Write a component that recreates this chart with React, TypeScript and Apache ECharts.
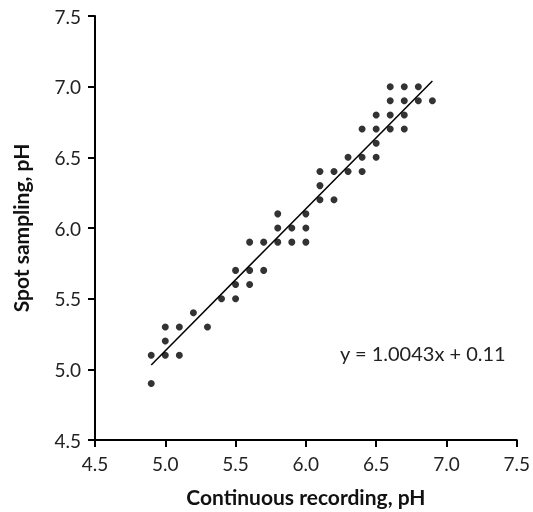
import React, { useEffect, useRef } from "react";
import * as echarts from "echarts";

const continuous = [
  4.9, 4.9, 5.0, 5.0, 5.0, 5.1, 5.1, 5.2, 5.3, 5.4,
  5.5, 5.5, 5.5, 5.6, 5.6, 5.6, 5.7, 5.7,
  5.8, 5.8, 5.8, 5.9, 5.9, 6.0, 6.0, 6.0,
  6.1, 6.1, 6.1, 6.2, 6.2, 6.3, 6.3,
  6.4, 6.4, 6.4, 6.5, 6.5, 6.5, 6.5,
  6.6, 6.6, 6.6, 6.6, 6.7, 6.7, 6.7, 6.7,
  6.8, 6.8, 6.9,
];
const spot = [
  4.9, 5.1, 5.1, 5.2, 5.3, 5.1, 5.3, 5.4, 5.3, 5.5,
  5.5, 5.6, 5.7, 5.6, 5.7, 5.9, 5.7, 5.9,
  5.9, 6.0, 6.1, 5.9, 6.0, 5.9, 6.0, 6.1,
  6.2, 6.3, 6.4, 6.2, 6.4, 6.4, 6.5,
  6.4, 6.5, 6.7, 6.5, 6.6, 6.7, 6.8,
  6.7, 6.8, 6.9, 7.0, 6.7, 6.8, 6.9, 7.0,
  6.9, 7.0, 6.9,
];
const slope = 1.0043;
const intercept = 0.11;
const trendX = [4.9, 6.9];
const axisTicks = ["4.5", "5.0", "5.5", "6.0", "6.5", "7.0", "7.5"];
const equationText = "y = 1.0043x + 0.11";

const FONT = "Lato, 'Open Sans', sans-serif";

export default function App() {
  const ref = useRef<HTMLDivElement>(null);
  useEffect(() => {
    if (!ref.current) return;
    const chart = echarts.init(ref.current, null, { renderer: "svg" });
    const points = continuous.map((x, i) => [x, spot[i]]);
    const trend = trendX.map((x) => [x, slope * x + intercept]);
    const axisCommon = {
      type: "value" as const,
      min: 4.5,
      max: 7.5,
      interval: 0.5,
      splitLine: { show: false },
      axisLine: { show: true, lineStyle: { color: "#000", width: 2 } },
      axisTick: { show: true, length: 7, lineStyle: { color: "#000", width: 2 } },
      axisLabel: {
        color: "#222",
        fontSize: 19,
        fontFamily: FONT,
        margin: 14,
        formatter: (v: number) => axisTicks.find((t) => Math.abs(parseFloat(t) - v) < 1e-6) ?? "",
      },
      nameLocation: "middle" as const,
      nameTextStyle: { color: "#111", fontSize: 21, fontWeight: "bold" as const, fontFamily: FONT },
    };
    chart.setOption({
      animation: false,
      grid: { left: 95, right: 16, top: 16, bottom: 71 },
      xAxis: { ...axisCommon, name: "Continuous recording, pH", nameGap: 46 },
      yAxis: { ...axisCommon, name: "Spot sampling, pH", nameGap: 64 },
      graphic: [
        {
          type: "text",
          left: 340,
          top: 343,
          style: { text: equationText, fontSize: 20, fontFamily: FONT, fill: "#222" },
        },
      ],
      series: [
        {
          type: "scatter",
          data: points,
          symbol: "circle",
          symbolSize: 7,
          itemStyle: { color: "#000" },
        },
        {
          type: "line",
          data: trend,
          symbol: "none",
          lineStyle: { color: "#000", width: 1.5 },
        },
      ],
    });
    return () => chart.dispose();
  }, []);
  return <div ref={ref} style={{ position: "fixed", left: 0, top: 0, width: 533, height: 512 }} />;
}
